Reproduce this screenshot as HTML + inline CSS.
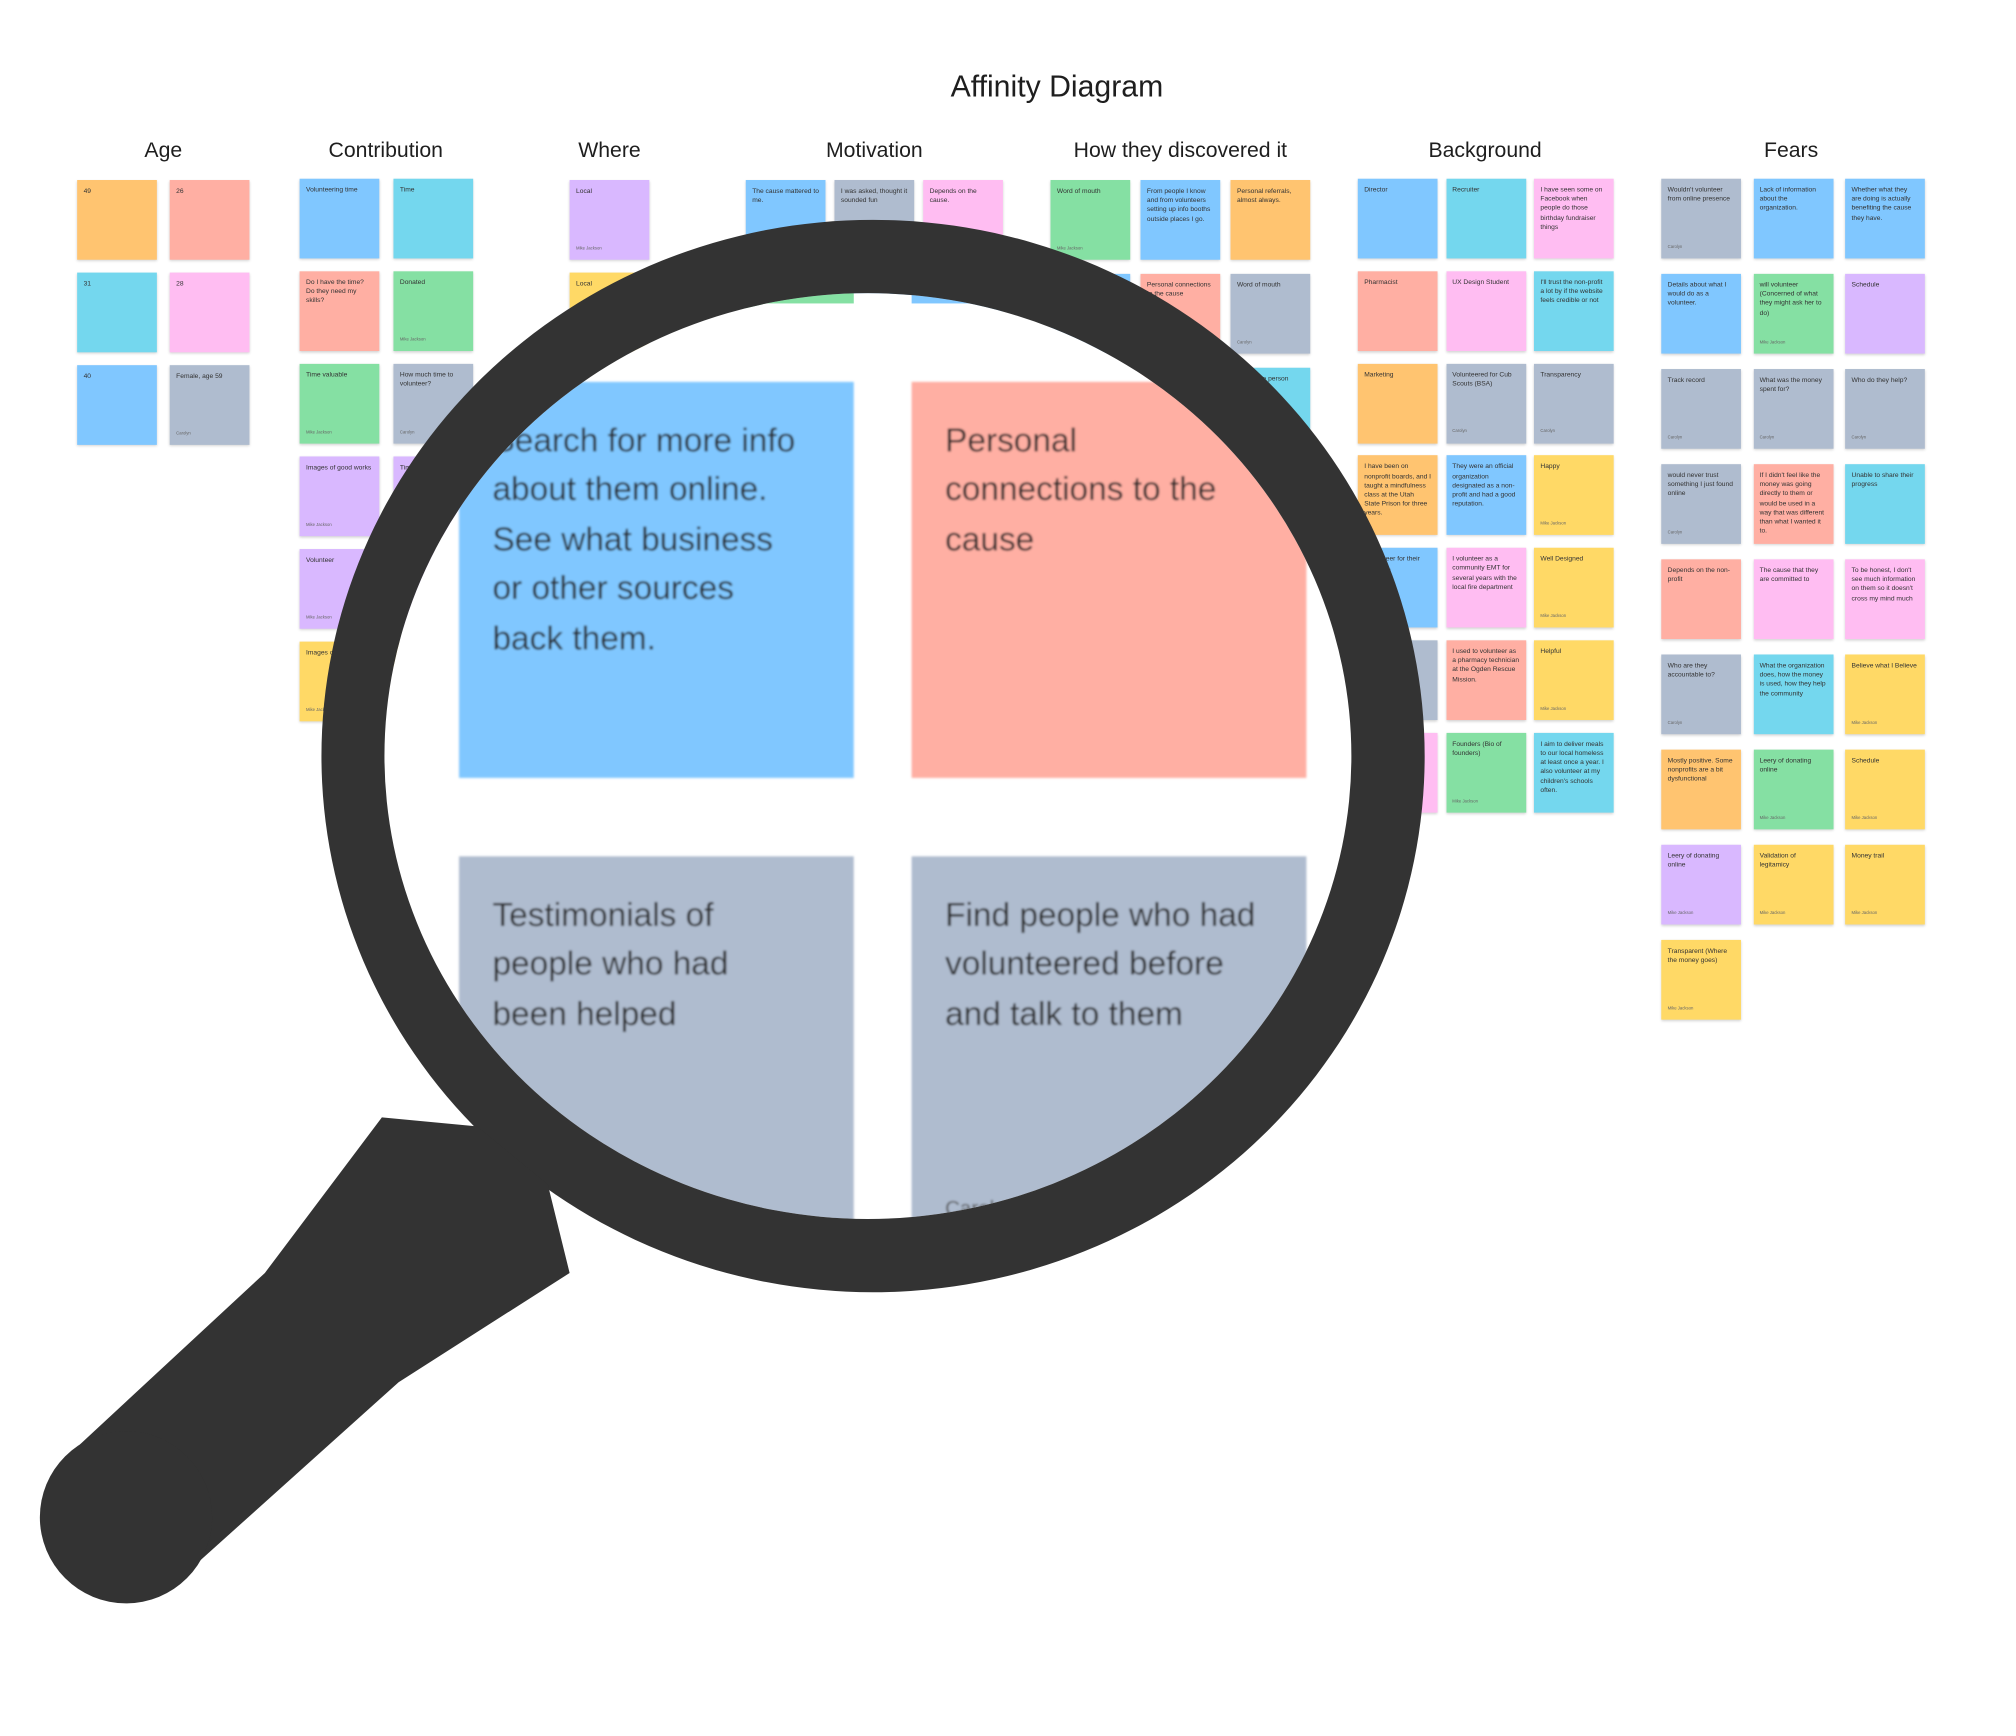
<!DOCTYPE html>
<html><head><meta charset="utf-8"><style>
html,body{margin:0;padding:0;background:#fff;}
#root{position:relative;width:1568px;height:1350px;transform:scale(1.2858,1.2858);transform-origin:0 0;overflow:hidden;font-family:"Liberation Sans",sans-serif;color:#1e1e1e;}
.h{position:absolute;font-size:16.5px;transform:translateX(-50%);white-space:nowrap;}
.n{position:absolute;width:62px;height:62px;box-shadow:0 1px 2px rgba(0,0,0,.18);font-size:5.2px;line-height:7.2px;padding:6px 5px;box-sizing:border-box;overflow:hidden;color:#333;}
.n i{position:absolute;left:5px;bottom:5px;font-style:normal;font-size:3.3px;color:#666;}
#lens{position:absolute;left:0;top:0;}
.big{font-size:26px;line-height:38.5px;fill:#2b2b2b;}
</style></head><body>
<div id="root">
<div class="h" style="left:822px;top:54px;font-size:23.5px;">Affinity Diagram</div>
<div id="notes"></div>
<svg id="lens" width="1560" height="1342" viewBox="0 0 1560 1342">
 <defs>
  <clipPath id="ic"><ellipse cx="675" cy="588" rx="376" ry="360"/></clipPath>
  <filter id="bl"><feGaussianBlur stdDeviation="0.8"/></filter>
 </defs>
 <g clip-path="url(#ic)">
  <rect x="200" y="150" width="1000" height="900" fill="#fff"/>
  <rect x="580" y="150" width="84" height="86" fill="#85E0A3"/>
  <rect x="709" y="150" width="80" height="86" fill="#80C7FF"/>
  <g filter="url(#bl)">
  <rect x="357" y="297" width="307" height="308" fill="#80C7FF"/>
  <rect x="709" y="297" width="307" height="308" fill="#FFAFA3"/>
  <rect x="357" y="666" width="307" height="400" fill="#AFBCCF"/>
  <rect x="709" y="666" width="307" height="400" fill="#AFBCCF"/>
  <g class="big" font-family="Liberation Sans, sans-serif">
   <text x="383" y="351">Search for more info</text>
   <text x="383" y="389">about them online.</text>
   <text x="383" y="428">See what business</text>
   <text x="383" y="466">or other sources</text>
   <text x="383" y="505">back them.</text>
   <text x="735" y="351">Personal</text>
   <text x="735" y="389">connections to the</text>
   <text x="735" y="428">cause</text>
   <text x="383" y="720">Testimonials of</text>
   <text x="383" y="758">people who had</text>
   <text x="383" y="797">been helped</text>
   <text x="735" y="720">Find people who had</text>
   <text x="735" y="758">volunteered before</text>
   <text x="735" y="797">and talk to them</text>
   <text x="735" y="945" font-size="16" fill="#555">Carolyn</text>
  </g>
  </g>
 </g>
 <path fill-rule="evenodd" fill="#333" d="M250,588 a429,417 0 1,0 858,0 a429,417 0 1,0 -858,0 Z M299,588 a376,360 0 1,0 752,0 a376,360 0 1,0 -752,0 Z"/>
 <g fill="#333">
  <polygon points="297,869 371,876 426,921 443,990 310,1075 143,1225 55,1130 206,990"/>
  <circle cx="98" cy="1180" r="67"/>
 </g>
</svg>
</div>
<script>
const colors={o:"#FFC470",s:"#FFAFA3",c:"#74D7EE",b:"#80C7FF",p:"#FFBDF2",g:"#AFBCCF",gr:"#85E0A3",pu:"#D9B8FF",y:"#FFD966"};
const groupNames=["Age","Contribution","Where","Motivation","How they discovered it","Background","Fears"];
const headerX=[127,300,474,680,918,1155,1393];
const groupPos=[[60,72,140,72],[233,73,139,72],[443,70,140,72],[580,69,140,72],[817,70,140,73],[1056,68.5,139,71.8],[1292,71.5,139,74]];
const groupNotes=[
 [["o","49"],["s","26"],["c","31"],["p","28"],["b","40"],["g","Female, age 59","Carolyn"]],
 [["b","Volunteering time"],["c","Time"],["s","Do I have the time? Do they need my skills?"],["gr","Donated","Mike Jackson"],["gr","Time valuable","Mike Jackson"],["g","How much time to volunteer?","Carolyn"],["pu","Images of good works","Mike Jackson"],["pu","Time"],["pu","Volunteer","Mike Jackson"],["pu",""],["y","Images of good works","Mike Jackson"],["y",""]],
 [["pu","Local","Mike Jackson"],["y","Local"]],
 [["b","The cause mattered to me."],["g","I was asked, thought it sounded fun"],["p","Depends on the cause."],["gr",""],["b",""],["b",""]],
 [["gr","Word of mouth","Mike Jackson"],["b","From people I know and from volunteers setting up info booths outside places I go."],["o","Personal referrals, almost always."],["b",""],["s","Personal connections to the cause"],["g","Word of mouth","Carolyn"],["b",""],["s",""],["c","Heard the person"]],
 [["b","Director"],["c","Recruiter"],["p","I have seen some on Facebook when people do those birthday fundraiser things"],["s","Pharmacist"],["p","UX Design Student"],["c","I'll trust the non-profit a lot by if the website feels credible or not"],["o","Marketing"],["g","Volunteered for Cub Scouts (BSA)","Carolyn"],["g","Transparency","Carolyn"],["o","I have been on nonprofit boards, and I taught a mindfulness class at the Utah State Prison for three years."],["b","They were an official organization designated as a non-profit and had a good reputation."],["y","Happy","Mike Jackson"],["b","I volunteer for their program."],["p","I volunteer as a community EMT for several years with the local fire department"],["y","Well Designed","Mike Jackson"],["g",""],["s","I used to volunteer as a pharmacy technician at the Ogden Rescue Mission."],["y","Helpful","Mike Jackson"],["p",""],["gr","Founders (Bio of founders)","Mike Jackson"],["c","I aim to deliver meals to our local homeless at least once a year. I also volunteer at my children's schools often."]],
 [["g","Wouldn't volunteer from online presence","Carolyn"],["b","Lack of information about the organization."],["b","Whether what they are doing is actually benefiting the cause they have."],["b","Details about what I would do as a volunteer."],["gr","will volunteer (Concerned of what they might ask her to do)","Mike Jackson"],["pu","Schedule"],["g","Track record","Carolyn"],["g","What was the money spent for?","Carolyn"],["g","Who do they help?","Carolyn"],["g","would never trust something I just found online","Carolyn"],["s","If I didn't feel like the money was going directly to them or would be used in a way that was different than what I wanted it to."],["c","Unable to share their progress"],["s","Depends on the non-profit"],["p","The cause that they are committed to"],["p","To be honest, I don't see much information on them so it doesn't cross my mind much"],["g","Who are they accountable to?","Carolyn"],["c","What the organization does, how the money is used, how they help the community"],["y","Believe what I Believe","Mike Jackson"],["o","Mostly positive. Some nonprofits are a bit dysfunctional"],["gr","Leery of donating online","Mike Jackson"],["y","Schedule","Mike Jackson"],["pu","Leery of donating online","Mike Jackson"],["y","Validation of legitamicy","Mike Jackson"],["y","Money trail","Mike Jackson"],["y","Transparent (Where the money goes)","Mike Jackson"]]
];
const cols=[2,2,1,3,3,3,3];
const host=document.getElementById('notes');
groupNames.forEach((name,gi)=>{
 const h=document.createElement('div');h.className='h';
 
 
 h.style.left=headerX[gi]+'px';h.style.top='108px';h.textContent=name;host.appendChild(h);
 const [x0,cp,y0,rp]=groupPos[gi];
 groupNotes[gi].forEach((nt,i)=>{
  const d=document.createElement('div');d.className='n';
  
  
  d.style.left=(x0+(i%cols[gi])*cp)+'px';d.style.top=(y0+Math.floor(i/cols[gi])*rp)+'px';
  d.style.background=colors[nt[0]];d.textContent=nt[1];
  if(nt[2]){const f=document.createElement('i');f.textContent=nt[2];d.appendChild(f);}
  host.appendChild(d);
 });
});
</script>
</body></html>
